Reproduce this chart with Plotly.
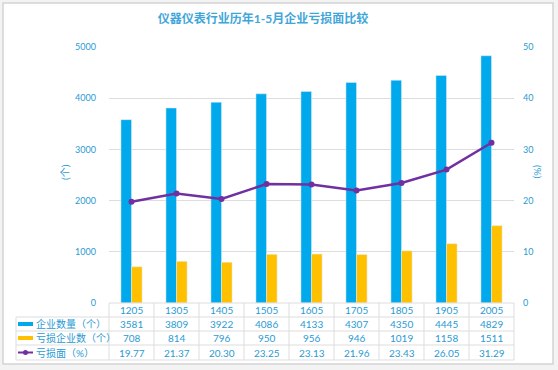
import plotly.graph_objects as go

categories = ["1205", "1305", "1405", "1505", "1605", "1705", "1805", "1905", "2005"]
enterprises = [3581, 3809, 3922, 4086, 4133, 4307, 4350, 4445, 4829]
loss_enterprises = [708, 814, 796, 950, 956, 946, 1019, 1158, 1511]
loss_ratio = [19.77, 21.37, 20.30, 23.25, 23.13, 21.96, 23.43, 26.05, 31.29]
series_names = ["企业数量（个）", "亏损企业数（个）", "亏损面（%）"]
title_text = "仪器仪表行业历年1-5月企业亏损面比较"

BLUE = "#00A9EC"
YELLOW = "#FFC000"
PURPLE = "#7030A0"
TXT = "#2A9AD3"
GRID = "#DDDDDD"
FONT = "Lato, Noto Sans CJK SC, sans-serif"

W, H = 558, 370
L, R, T, B = 109, 44, 47, 67
PW, PH = W - L - R, H - T - B
n = len(categories)


def px_x(p):
    return (p - L) / PW


def px_y(p):
    return (H - B - p) / PH


fig = go.Figure()
fig.add_trace(go.Bar(x=categories, y=enterprises, name=series_names[0],
                     marker_color=BLUE, yaxis="y"))
fig.add_trace(go.Bar(x=categories, y=loss_enterprises, name=series_names[1],
                     marker_color=YELLOW, yaxis="y"))
fig.add_trace(go.Scatter(x=categories, y=loss_ratio, name=series_names[2],
                         mode="lines+markers", line=dict(color=PURPLE, width=2.5),
                         marker=dict(size=6, color=PURPLE), yaxis="y2"))

shapes = []
# outer frame
shapes.append(dict(type="rect", xref="paper", yref="paper",
                   x0=px_x(3), x1=px_x(553), y0=px_y(364), y1=px_y(3),
                   line=dict(color="#D4D4D4", width=1.5), fillcolor="white", layer="below"))

# table lines
row_lines = [303, 317, 331, 345, 360]
for i, yy in enumerate(row_lines):
    x0 = 0 if i == 0 else px_x(16)
    shapes.append(dict(type="line", xref="paper", yref="paper",
                       x0=x0, x1=1, y0=px_y(yy), y1=px_y(yy),
                       line=dict(color=GRID, width=1)))
for k in range(n + 1):
    xp = k / n
    shapes.append(dict(type="line", xref="paper", yref="paper",
                       x0=xp, x1=xp, y0=px_y(303), y1=px_y(360),
                       line=dict(color=GRID, width=1)))
shapes.append(dict(type="line", xref="paper", yref="paper",
                   x0=px_x(16), x1=px_x(16), y0=px_y(317), y1=px_y(360),
                   line=dict(color=GRID, width=1)))

# legend icons in table
row_centers = [310, 324, 338, 352.5]
shapes.append(dict(type="rect", xref="paper", yref="paper",
                   x0=px_x(18), x1=px_x(33), y0=px_y(326), y1=px_y(322),
                   fillcolor=BLUE, line=dict(width=0)))
shapes.append(dict(type="rect", xref="paper", yref="paper",
                   x0=px_x(18), x1=px_x(33), y0=px_y(340), y1=px_y(336),
                   fillcolor=YELLOW, line=dict(width=0)))
shapes.append(dict(type="line", xref="paper", yref="paper",
                   x0=px_x(18), x1=px_x(33), y0=px_y(352.5), y1=px_y(352.5),
                   line=dict(color=PURPLE, width=2)))
shapes.append(dict(type="circle", xref="paper", yref="paper",
                   x0=px_x(23), x1=px_x(28), y0=px_y(355), y1=px_y(350),
                   fillcolor=PURPLE, line=dict(width=0)))

annotations = []
rows = [categories,
        [str(v) for v in enterprises],
        [str(v) for v in loss_enterprises],
        ["%.2f" % v for v in loss_ratio]]
for r, vals in enumerate(rows):
    for ci, v in enumerate(vals):
        annotations.append(dict(x=(ci + 0.5) / n, xref="paper", y=px_y(row_centers[r]), yref="paper",
                                text=v, showarrow=False, xanchor="center", yanchor="middle",
                                font=dict(family=FONT, size=10, color=TXT)))
for r, name in enumerate(series_names):
    annotations.append(dict(x=px_x(34), xref="paper", y=px_y(row_centers[r + 1]), yref="paper",
                            text=name, showarrow=False, xanchor="left", yanchor="middle",
                            font=dict(family=FONT, size=10, color=TXT)))

# axis titles
annotations.append(dict(x=px_x(65), xref="paper", y=px_y(172), yref="paper",
                        text="(个)", textangle=-90, showarrow=False,
                        xanchor="center", yanchor="middle",
                        font=dict(family=FONT, size=10, color=TXT)))
annotations.append(dict(x=px_x(538), xref="paper", y=px_y(172), yref="paper",
                        text="(%)", textangle=90, showarrow=False,
                        xanchor="center", yanchor="middle",
                        font=dict(family=FONT, size=10, color=TXT)))

fig.update_layout(
    width=W, height=H,
    margin=dict(l=L, r=R, t=T, b=B, pad=0),
    paper_bgcolor="#F3F3F3",
    plot_bgcolor="rgba(0,0,0,0)",
    title=dict(text="<b>" + title_text + "</b>", x=263 / W, xanchor="center",
               y=1 - 19 / H, yanchor="middle",
               font=dict(family=FONT, size=12, color="#3FA6DA")),
    showlegend=False,
    barmode="group", bargap=0.53, bargroupgap=0,
    xaxis=dict(type="category", range=[-0.5, n - 0.5], showticklabels=False, ticks="",
               showgrid=False, showline=False, zeroline=False),
    yaxis=dict(range=[0, 5000], dtick=1000, gridcolor=GRID, gridwidth=1,
               zeroline=False, showline=False,
               tickfont=dict(family=FONT, size=9, color=TXT), ticklabelstandoff=12),
    yaxis2=dict(range=[0, 50], dtick=10, overlaying="y", side="right",
                showgrid=False, zeroline=False, showline=False,
                tickfont=dict(family=FONT, size=9, color=TXT), ticklabelstandoff=8),
    shapes=shapes,
    annotations=annotations,
)

fig.write_html("out.html", config={"displayModeBar": False},
               post_script="document.body.style.margin='0';document.body.style.overflow='hidden';")
